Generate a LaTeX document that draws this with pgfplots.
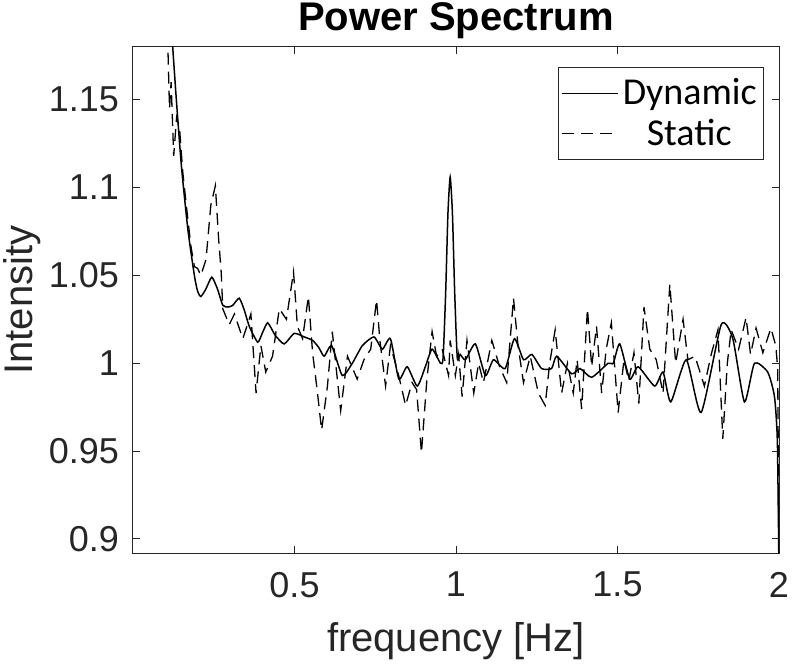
\documentclass[border=0pt]{standalone}
\usepackage{pgfplots}
\pgfplotsset{compat=1.18}
\usepackage{fontspec}
\setmainfont{Liberation Sans}
\newfontfamily\legfont{Carlito}
\definecolor{axgray}{rgb}{0.15,0.15,0.15}
\begin{document}
\begin{tikzpicture}
\useasboundingbox (-66.5bp,-58bp) rectangle (329.5bp,276.5bp);
\begin{axis}[
  at={(0,0)}, anchor=south west,
  scale only axis, width=323bp, height=253bp,
  xmin=0, xmax=2, ymin=0.892, ymax=1.18,
  xtick={0.5,1,1.5,2}, ytick={0.9,0.95,1,1.05,1.1,1.15},
  yticklabels={0.9,0.95,1,1.05,1.1,1.15},
  xticklabels={0.5,1,1.5,2},
  tick align=inside, tick pos=both,
  major tick length=3.5bp,
  axis line style={axgray, line width=0.5bp},
  every tick/.style={axgray, line width=0.5bp},
  tick label style={font=\fontsize{18bp}{20bp}\selectfont, text=axgray},
  xticklabel style={yshift=-6bp},
  yticklabel style={xshift=-3.5bp},
  /pgf/number format/assume math mode=true,
  title={\bfseries Power Spectrum},
  title style={font=\fontsize{20bp}{22bp}\selectfont, yshift=-5.5bp},
  xlabel={frequency [Hz]},
  ylabel={Intensity},
  label style={font=\fontsize{20bp}{22bp}\selectfont, text=axgray},
  xlabel style={yshift=-5.5bp},
  ylabel style={yshift=-3bp},
  legend style={at={(rel axis cs:0.977,0.96)}, anchor=north east, draw=axgray, line width=0.5bp,
     font=\legfont\fontsize{19bp}{21bp}\selectfont, cells={anchor=west},
     inner xsep=1.5bp, inner ysep=3.5bp, row sep=1.5bp},
  legend image code/.code={\draw[#1] (0bp,0bp) -- (28bp,0bp);},
  legend cell align=left,
]
\addplot[black, line width=0.75bp, smooth, tension=0.35] coordinates {
(0.118,1.20)(0.123,1.18)(0.135,1.148)(0.15,1.112)(0.17,1.076)(0.19,1.050)(0.200,1.041)
(0.210,1.038)(0.225,1.042)(0.244,1.049)(0.262,1.042)(0.278,1.033)(0.295,1.032)(0.309,1.033)
(0.329,1.037)(0.345,1.030)(0.36,1.021)(0.386,1.012)(0.40,1.017)(0.417,1.023)(0.44,1.016)
(0.468,1.011)(0.499,1.017)(0.53,1.015)(0.556,1.013)(0.575,1.009)(0.592,1.004)(0.615,1.010)
(0.648,0.993)(0.679,1.000)(0.71,1.010)(0.746,1.015)(0.772,1.008)(0.797,1.014)(0.823,0.991)
(0.849,0.998)(0.880,0.987)(0.905,0.998)(0.926,1.008)(0.952,1.000)(0.960,1.003)(0.968,1.040)
(0.975,1.085)(0.982,1.106)(0.989,1.085)(0.996,1.040)(1.004,1.003)(1.013,1.005)(1.029,1.002)
(1.060,1.011)(1.091,0.993)(1.116,1.002)(1.152,0.997)(1.181,1.014)(1.209,1.002)(1.235,1.005)
(1.265,0.997)(1.296,0.997)(1.312,1.004)(1.358,0.994)(1.384,0.997)(1.420,0.992)(1.471,1.000)
(1.487,1.000)(1.507,1.011)(1.538,0.991)(1.564,0.998)(1.615,0.987)(1.641,0.995)(1.665,0.978)
(1.713,1.002)(1.759,0.972)(1.821,1.022)(1.857,1.014)(1.893,0.978)(1.924,1.000)(1.965,0.995)
(1.986,0.981)(1.995,0.955)(2.0,0.88)
};
\addlegendentry{Dynamic}
\addplot[black, line width=0.65bp, dash pattern=on 6bp off 3.5bp] coordinates {
(0.105,1.22)(0.108,1.18)(0.113,1.145)(0.118,1.16)(0.126,1.118)(0.135,1.14)(0.144,1.134)
(0.154,1.109)(0.165,1.09)(0.179,1.067)(0.19,1.055)(0.2,1.054)(0.21,1.05)(0.226,1.059)
(0.241,1.09)(0.255,1.101)(0.265,1.071)(0.273,1.052)(0.278,1.031)(0.298,1.022)(0.314,1.028)
(0.340,1.014)(0.365,1.028)(0.381,0.983)(0.396,1.010)(0.411,0.995)(0.432,1.004)(0.453,1.031)
(0.475,1.025)(0.497,1.052)(0.509,1.021)(0.525,1.014)(0.543,1.038)(0.556,1.006)(0.570,0.985)
(0.584,0.962)(0.602,0.987)(0.617,1.018)(0.643,0.973)(0.664,1.004)(0.694,0.991)(0.715,1.002)
(0.736,1.008)(0.754,1.036)(0.765,1.012)(0.782,0.987)(0.797,1.010)(0.82,0.995)(0.844,0.976)
(0.864,0.989)(0.878,0.985)(0.893,0.949)(0.910,0.991)(0.926,1.018)(0.940,1.004)(0.957,1.008)
(0.977,0.993)(0.982,1.013)(0.998,0.993)(1.008,1.005)(1.019,0.981)(1.034,1.013)(1.055,0.983)
(1.070,1.000)(1.085,0.989)(1.111,1.013)(1.135,0.998)(1.157,0.989)(1.178,1.037)(1.192,1.010)
(1.209,0.989)(1.230,1.004)(1.255,0.983)(1.276,0.976)(1.290,1.000)(1.307,1.019)(1.327,0.983)
(1.345,1.000)(1.363,0.983)(1.375,1.002)(1.389,0.974)(1.407,1.031)(1.420,0.998)(1.435,1.021)
(1.451,0.983)(1.465,1.008)(1.481,1.023)(1.502,0.972)(1.520,1.002)(1.535,0.990)(1.551,1.006)
(1.566,0.977)(1.582,1.032)(1.600,1.008)(1.620,1.002)(1.641,0.983)(1.662,1.045)(1.680,1.000)
(1.703,1.025)(1.718,1.002)(1.740,1.004)(1.769,0.987)(1.790,1.005)(1.811,1.019)(1.826,0.957)
(1.840,1.000)(1.852,1.019)(1.875,1.008)(1.898,1.026)(1.912,1.005)(1.929,1.020)(1.950,1.006)
(1.975,1.020)(1.990,1.010)(1.996,0.997)(2.0,0.88)
};
\addlegendentry{\hspace{12bp}Static}
\end{axis}
\end{tikzpicture}
\end{document}
